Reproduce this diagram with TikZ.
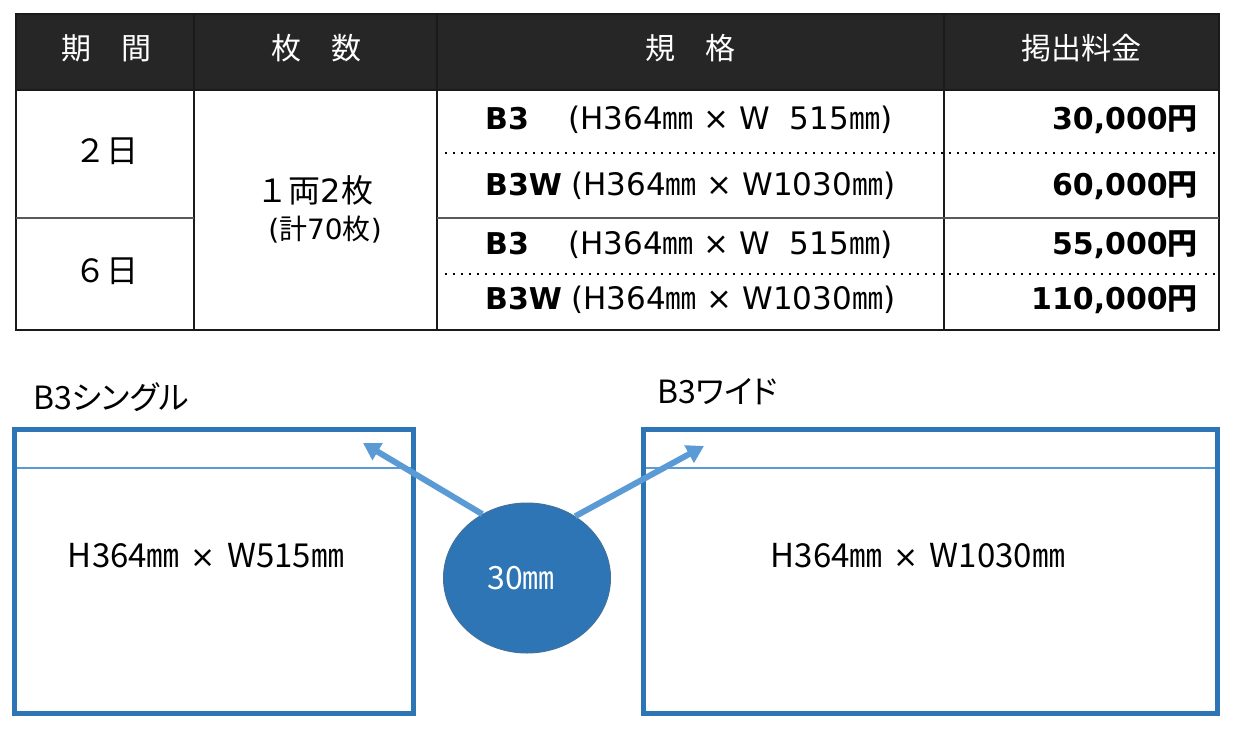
\documentclass[tikz,border=0pt]{standalone}
\usepackage{fontspec}
\setmainfont{DejaVu Sans}
\newfontfamily\jp{Noto Sans CJK JP}
\newfontfamily\jpp[RawFeature=+palt]{Noto Sans CJK JP}
\usetikzlibrary{shapes.geometric,arrows.meta}
\newcommand\J[1]{{\jp #1}}
\newcommand\Times{\hspace{11pt}{\rmfamily\fontsize{30}{36}\selectfont ×}\hspace{11pt}}
\definecolor{hdfill}{HTML}{262626}
\definecolor{boxblue}{HTML}{2E75B6}
\definecolor{lightblue}{HTML}{5B9BD5}
\definecolor{elledge}{HTML}{41719C}
\definecolor{gridc}{HTML}{1A1A1A}
\tikzset{
  hd/.style={text=white, font=\jp\fontsize{30}{36}\selectfont, inner sep=0},
  cell/.style={font=\jp\fontsize{32}{38}\selectfont, inner sep=0},
  smallcell/.style={font=\fontsize{28}{34}\selectfont, inner sep=0},
  spec/.style={font=\fontsize{31}{36}\selectfont, inner sep=0, anchor=base west},
  specb/.style={font=\bfseries\fontsize{30}{36}\selectfont, inner sep=0, anchor=base west},
  price/.style={font=\bfseries\fontsize{30}{36}\selectfont, inner sep=0, anchor=base east},
  lbl/.style={font=\jpp\fontsize{32}{38}\selectfont, inner sep=0, anchor=west},
  dim/.style={font=\jp\fontsize{33}{38}\selectfont, inner sep=0},
  grid/.style={draw=gridc, line width=2.2pt},
  dots/.style={draw=black, line width=2.4pt, dash pattern=on 2.4pt off 5.6pt},
  panel/.style={draw=boxblue, line width=5pt},
  thin/.style={draw=lightblue, line width=1.5pt},
  pointer/.style={draw=lightblue, line width=6pt, -{Triangle[length=17pt,width=19pt]}},
}
\begin{document}
\begin{tikzpicture}[x=1pt,y=-1pt]
\useasboundingbox (0,0) rectangle (1240,736);
% ---------- table ----------
\fill[hdfill] (16,14) rectangle (1219,90);
% dotted separators
\draw[dots] (445,153) -- (1219,153);
\draw[dots] (445,274) -- (1219,274);
% grid
\draw[grid] (16,14) rectangle (1219,330);
\draw[grid] (16,90) -- (1219,90);
\draw[grid] (194,14) -- (194,330);
\draw[grid] (437,14) -- (437,330);
\draw[grid] (944,14) -- (944,330);
\draw[grid, draw=black!65] (16,218) -- (194,218);
\draw[grid, draw=black!65] (437,218) -- (1219,218);
% header
\node[hd] (h1) at (106,48) {期　間};
\node[hd] (h2) at (316,48) {枚　数};
\node[hd] (h3) at (690,48) {規　格};
\node[hd] (h4) at (1081,48) {掲出料金};
% period column
\node[cell] (d2) at (106,151) {２日};
\node[cell] (d6) at (106,271) {６日};
% count column
\node[cell] (cnt) at (315,190) {１両{\rmfamily 2}枚};
\node[smallcell] (tot) at (325,230) {(\J{計}70\J{枚})};
% spec column
\node[specb] (s1a) at (485,129) {B3};
\node[spec]  (s1b) at (568,129) {(H364\J{㎜} × W\phantom{1}515\J{㎜})};
\node[specb] (s2a) at (485,195) {B3W};
\node[spec]  (s2b) at (571,195) {(H364\J{㎜} × W1030\J{㎜})};
\node[specb] (s3a) at (485,254) {B3};
\node[spec]  (s3b) at (568,254) {(H364\J{㎜} × W\phantom{1}515\J{㎜})};
\node[specb] (s4a) at (485,309) {B3W};
\node[spec]  (s4b) at (571,309) {(H364\J{㎜} × W1030\J{㎜})};
% price column
\node[price] (p1) at (1198,129) {30,000\J{円}};
\node[price] (p2) at (1198,195) {60,000\J{円}};
\node[price] (p3) at (1198,254) {55,000\J{円}};
\node[price] (p4) at (1198,309) {110,000\J{円}};
% ---------- panels ----------
\node[lbl] (l1) at (33,397) {B3シングル};
\node[lbl] (l2) at (657,392) {B3ワイド};
\draw[thin] (17,468) -- (411,468);
\draw[thin] (646,468) -- (1215,468);
\draw[panel] (14.5,429.5) rectangle (413.5,713.5);
\draw[panel] (643.5,429.5) rectangle (1217.5,713.5);
\node[dim] (t1) at (206,556) {H364㎜\Times W515㎜};
\node[dim] (t2) at (918,556) {H364㎜\Times W1030㎜};
% ---------- callout ----------
\coordinate (tipL) at (363,443);
\coordinate (tipR) at (704,446);
\node[ellipse, minimum width=167pt, minimum height=150pt, inner sep=0,
      fill=boxblue, draw=elledge, line width=1pt,
      text=white, font=\jp\fontsize{32}{38}\selectfont] (e) at (527,578) {\hbox{30㎜\kern12pt}};
\draw[pointer] (e.125) -- (tipL);
\draw[pointer] (e.52) -- (tipR);
\end{tikzpicture}
\end{document}
